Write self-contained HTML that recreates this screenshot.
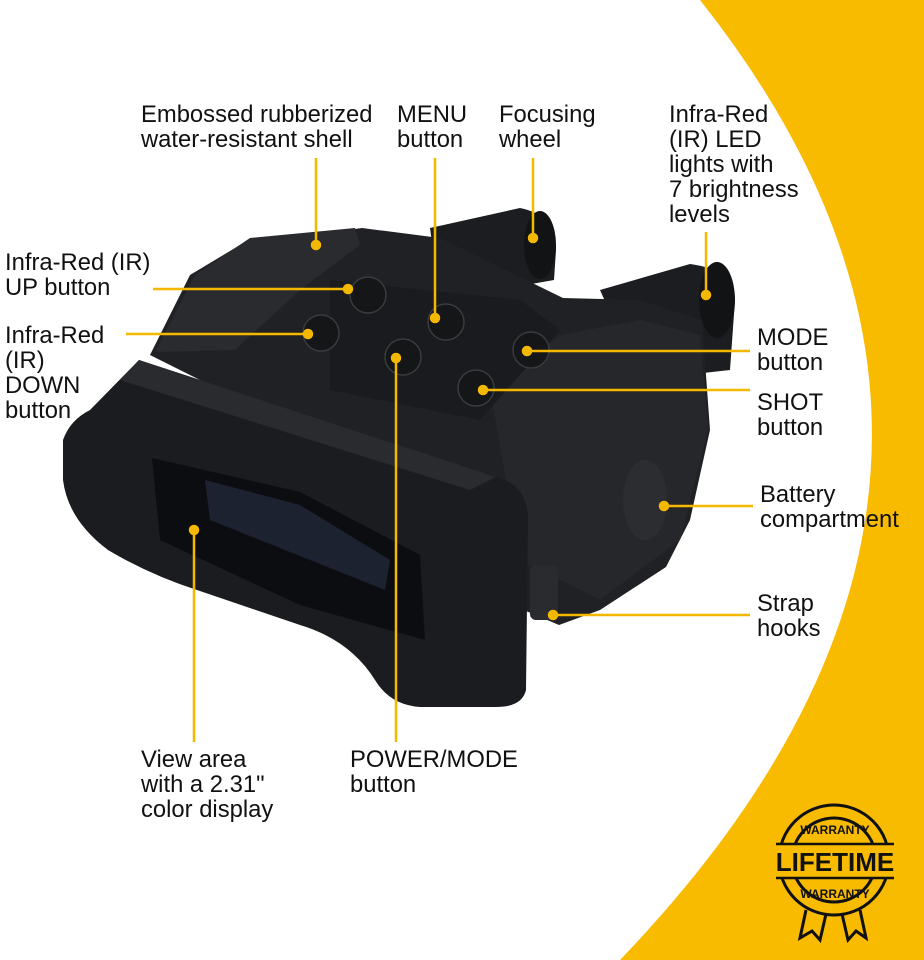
<!DOCTYPE html>
<html><head><meta charset="utf-8"><style>
html,body{margin:0;padding:0;background:#fff}
body{width:924px;height:960px;position:relative;overflow:hidden;font-family:"Liberation Sans","DejaVu Sans",sans-serif}
.t{position:absolute;font-size:23.8px;line-height:25px;color:#111}
</style></head><body>
<svg width="924" height="960" style="position:absolute;left:0;top:0">
<path d="M700,0 Q1080,480 620,960 L924,960 L924,0 Z" fill="#f8bb00"/>
<path d="M430,228 L520,208 Q556,215 556,250 L554,280 L440,300 Z" fill="#1c1d20"/>
<ellipse cx="540" cy="245" rx="16" ry="34" fill="#121315"/>
<path d="M600,290 L690,264 Q735,270 735,300 L730,370 L640,380 Z" fill="#1c1d20"/>
<ellipse cx="717" cy="300" rx="18" ry="38" fill="#121315"/>
<path d="M150,355 L190,275 L240,245 L362,228 L440,238 L563,298 L640,300 L702,320 L710,430 L690,520 L666,567 L600,610 L559,625 L500,600 L300,430 Z" fill="#202124"/>
<path d="M155,352 L195,275 L250,238 L355,228 L360,245 L300,290 L235,350 Z" fill="#2a2b2f"/>
<path d="M490,390 L560,335 L640,320 L700,335 L708,430 L680,540 L600,600 L520,560 Z" fill="#26272b"/>
<path d="M330,280 L520,300 L560,330 L480,420 L330,390 Z" fill="#1a1b1e"/>
<g fill="#151618" stroke="#3a3b3f" stroke-width="1.5">
<circle cx="368" cy="295" r="18"/><circle cx="321" cy="333" r="18"/>
<circle cx="446" cy="322" r="18"/><circle cx="403" cy="357" r="18"/>
<circle cx="531" cy="350" r="18"/><circle cx="476" cy="388" r="18"/>
</g>
<path d="M63,440 Q70,420 90,410 L139,360 L496,477 Q528,485 528,520 L526,690 Q522,707 496,707 L420,707 Q390,705 375,680 Q350,640 300,625 L197,590 Q150,575 108,550 Q68,520 63,480 Z" fill="#1b1c1f"/>
<path d="M139,360 L496,477 L470,490 L120,380 Z" fill="#2a2b2f"/>
<path d="M152,458 L300,492 L420,555 L425,640 L300,605 L160,540 Z" fill="#0c0d10"/>
<path d="M205,480 L300,505 L390,560 L385,590 L210,520 Z" fill="#1d2230"/>
<ellipse cx="645" cy="500" rx="22" ry="40" fill="#2c2d31"/>
<rect x="530" y="565" width="28" height="55" rx="6" fill="#2a2b2e"/>
<g stroke="#f5b800" stroke-width="2.5" fill="#f5b800">
<line x1="316" y1="158" x2="316" y2="245"/><circle cx="316" cy="245" r="4"/>
<line x1="435" y1="158" x2="435" y2="318"/><circle cx="435" cy="318" r="4"/>
<line x1="533" y1="158" x2="533" y2="238"/><circle cx="533" cy="238" r="4"/>
<line x1="706" y1="232" x2="706" y2="295"/><circle cx="706" cy="295" r="4"/>
<line x1="153" y1="289" x2="348" y2="289"/><circle cx="348" cy="289" r="4"/>
<line x1="126" y1="334" x2="308" y2="334"/><circle cx="308" cy="334" r="4"/>
<line x1="527" y1="351" x2="750" y2="351"/><circle cx="527" cy="351" r="4"/>
<line x1="483" y1="390" x2="750" y2="390"/><circle cx="483" cy="390" r="4"/>
<line x1="664" y1="506" x2="753" y2="506"/><circle cx="664" cy="506" r="4"/>
<line x1="553" y1="615" x2="750" y2="615"/><circle cx="553" cy="615" r="4"/>
<line x1="194" y1="530" x2="194" y2="742"/><circle cx="194" cy="530" r="4"/>
<line x1="396" y1="358" x2="396" y2="742"/><circle cx="396" cy="358" r="4"/>
</g>
<g fill="none" stroke="#111" stroke-width="3">
<circle cx="834" cy="860" r="55"/><circle cx="834" cy="860" r="42"/>
<path d="M806,910 L800,938 L812,931 L820,940 L826,914"/>
<path d="M842,914 L848,940 L856,931 L866,938 L860,910"/>
</g>
<rect x="776" y="845" width="118" height="32" fill="#f8bb00"/>
<line x1="776" y1="844" x2="894" y2="844" stroke="#111" stroke-width="2.5"/>
<line x1="776" y1="878" x2="894" y2="878" stroke="#111" stroke-width="2.5"/>
<text x="835" y="871" text-anchor="middle" font-family="Liberation Sans" font-weight="bold" font-size="26" fill="#111">LIFETIME</text>
<text x="835" y="834" text-anchor="middle" font-family="Liberation Sans" font-weight="bold" font-size="12" fill="#111">WARRANTY</text>
<text x="835" y="898" text-anchor="middle" font-family="Liberation Sans" font-weight="bold" font-size="12" fill="#111">WARRANTY</text>
</svg>
<div class="t" style="left:141px;top:102px">Embossed rubberized<br>water-resistant shell</div>
<div class="t" style="left:397px;top:102px">MENU<br>button</div>
<div class="t" style="left:499px;top:102px">Focusing<br>wheel</div>
<div class="t" style="left:669px;top:102px">Infra-Red<br>(IR) LED<br>lights with<br>7 brightness<br>levels</div>
<div class="t" style="left:5px;top:250px">Infra-Red (IR)<br>UP button</div>
<div class="t" style="left:5px;top:323px">Infra-Red<br>(IR)<br>DOWN<br>button</div>
<div class="t" style="left:757px;top:325px">MODE<br>button</div>
<div class="t" style="left:757px;top:390px">SHOT<br>button</div>
<div class="t" style="left:760px;top:482px">Battery<br>compartment</div>
<div class="t" style="left:757px;top:591px">Strap<br>hooks</div>
<div class="t" style="left:141px;top:747px">View area<br>with a 2.31"<br>color display</div>
<div class="t" style="left:350px;top:747px">POWER/MODE<br>button</div>
</body></html>
